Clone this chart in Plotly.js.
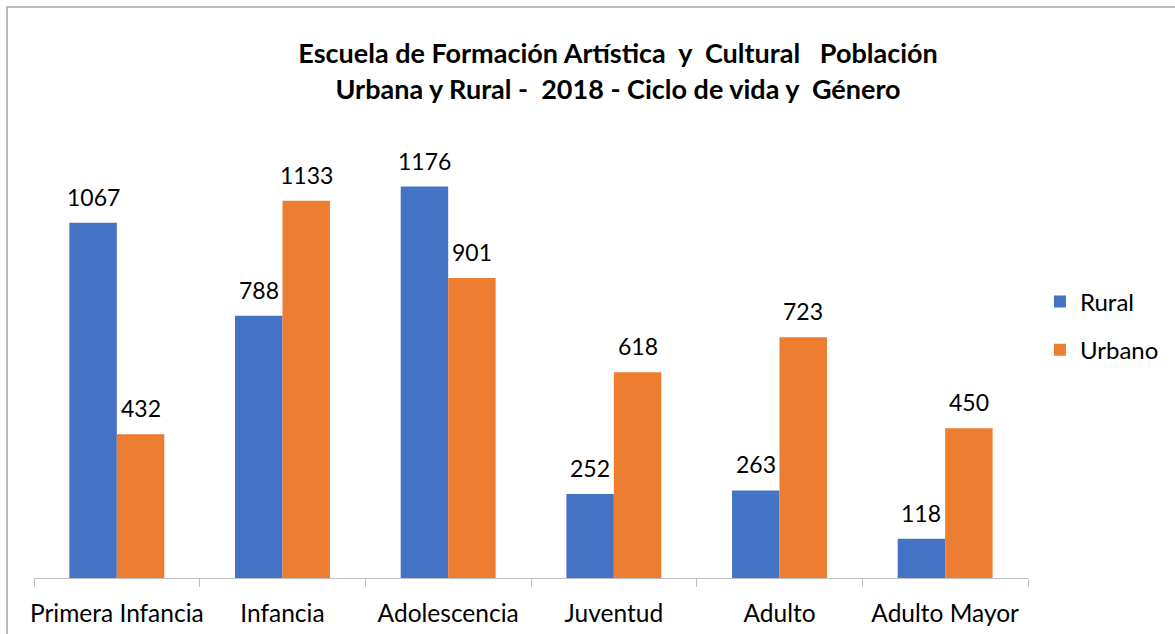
<!DOCTYPE html>
<html>
<head>
<meta charset="utf-8">
<script src="https://cdn.plot.ly/plotly-3.0.1.min.js"></script>
<style>
  html, body { margin: 0; padding: 0; background: #fff; }
  #chart { width: 1175px; height: 634px; }
</style>
</head>
<body>
<div id="chart"></div>
<script>
// categories and values
const categories = ["Primera Infancia", "Infancia", "Adolescencia", "Juventud", "Adulto", "Adulto Mayor"];
const rural = [1067, 788, 1176, 252, 263, 118];
const urbano = [432, 1133, 901, 618, 723, 450];

const FONT = "Lato, Calibri, 'Open Sans', sans-serif";
const BARGAP = 0.427;
const MARGIN = { l: 34, r: 146, t: 112, b: 56 };
const WIDTH = 1175;

function barTrace(name, values, color, group) {
  return {
    type: "bar",
    name: name,
    x: categories,
    y: values,
    legendgroup: group,
    marker: { color: color, line: { width: 0 } },
    hoverinfo: "x+y+name",
  };
}

const traces = [
  barTrace("Rural", rural, "#4472C4", "a"),
  barTrace("Urbano", urbano, "#ED7D31", "b"),
];

// value labels sit a little higher above the bars than plotly's own outside text
const plotW = WIDTH - MARGIN.l - MARGIN.r;
const halfBar = plotW / categories.length * (1 - BARGAP) / 4;
function labels(values, side) {
  return values.map((v, i) => ({
    x: categories[i], y: v, xref: "x", yref: "y",
    xshift: side * halfBar, yshift: 10,
    yanchor: "bottom", showarrow: false,
    text: String(v),
    font: { family: FONT, size: 23, color: "#000" },
  }));
}

const layout = {
  width: WIDTH,
  height: 634,
  margin: MARGIN,
  paper_bgcolor: "#fff",
  plot_bgcolor: "#fff",
  font: { family: FONT, size: 24, color: "#000" },
  title: {
    text: "<b>Escuela de Formación Artística  y  Cultural   Población<br>Urbana y Rural -  2018 - Ciclo de vida y  Género</b>",
    font: { family: FONT, size: 27, color: "#000" },
    x: 0.526, xanchor: "center",
    y: 0.9, yanchor: "middle",
  },
  barmode: "group",
  bargap: BARGAP,
  bargroupgap: 0,
  xaxis: {
    showline: true, linecolor: "#BFBFBF", linewidth: 1,
    ticks: "outside", tickson: "boundaries", ticklen: 8, tickcolor: "#BFBFBF",
    tickangle: 0,
    ticklabelstandoff: 14,
    tickfont: { family: FONT, size: 24.5, color: "#000" },
    showgrid: false, zeroline: false,
  },
  yaxis: {
    range: [0, 1400],
    visible: false,
    showgrid: false, zeroline: false,
  },
  showlegend: true,
  legend: {
    x: 1.011, xanchor: "left",
    y: 0.541, yanchor: "middle",
    traceorder: "grouped",
    tracegroupgap: 14,
    font: { family: FONT, size: 24, color: "#000" },
    bgcolor: "rgba(0,0,0,0)",
  },
  annotations: labels(rural, -1).concat(labels(urbano, 1)),
  shapes: [{
    type: "rect", xref: "paper", yref: "paper",
    x0: -0.0271, x1: 1.3, y0: -0.3, y1: 1.2253,
    line: { color: "#A6A6A6", width: 1.5 },
    fillcolor: "rgba(0,0,0,0)",
    layer: "below",
  }],
};

Plotly.newPlot("chart", traces, layout, { displayModeBar: false, staticPlot: true });
</script>
</body>
</html>
